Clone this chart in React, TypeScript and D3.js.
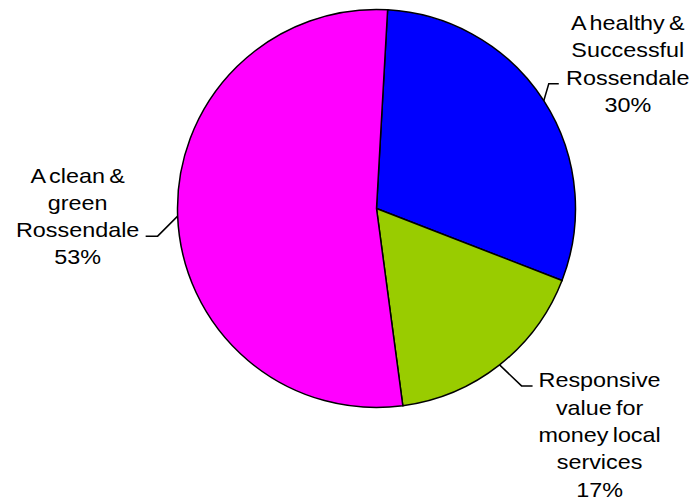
import React from "react";
import * as d3 from "d3";

const categories = [
  ["A healthy &", "Successful", "Rossendale"],
  ["Responsive", "value for", "money local", "services"],
  ["A clean &", "green", "Rossendale"],
];
const values = [30, 17, 53];
const percentLabels = ["30%", "17%", "53%"];
const colors = ["#0000FF", "#99CC00", "#FF00FF"];

const W = 697;
const H = 499;
const cx = 376.5;
const cy = 208.5;
const R = 199;
const startDeg = 3.2;

// leader elbow offsets and label placement (styling)
const leaders = [
  { ex: 5, ey: -17, hx: 10, tdx: 69, anchorLine: 2 },
  { ex: 22, ey: 21, hx: 11, tdx: 67, anchorLine: -0.02 },
  { ex: -20, ey: 20, hx: -12, tdx: -68, anchorLine: 2 },
];
const lineH = 27.3;
const fontSize = 20.5;

export default function App() {
  const s = (startDeg * Math.PI) / 180;
  const pie = d3
    .pie<number>()
    .sort(null)
    .value((d) => d)
    .startAngle(s)
    .endAngle(s + 2 * Math.PI);
  const arcs = pie(values);
  const arc = d3.arc<d3.PieArcDatum<number>>().innerRadius(0).outerRadius(R);

  return (
    <svg
      width={W}
      height={H}
      style={{ position: "absolute", left: 0, top: 0, background: "#fff" }}
      fontFamily="'Liberation Sans', Arial, sans-serif"
    >
      <g transform={`translate(${cx},${cy})`}>
        {arcs.map((a, i) => (
          <path key={i} d={arc(a) || ""} fill={colors[i]} stroke="#000" strokeWidth={1.5} />
        ))}
      </g>
      {arcs.map((a, i) => {
        const mid = (a.startAngle + a.endAngle) / 2;
        const px = cx + R * Math.sin(mid);
        const py = cy - R * Math.cos(mid);
        const L = leaders[i];
        const ex = px + L.ex;
        const ey = py + L.ey;
        const hx = ex + L.hx;
        const lines = [...categories[i], percentLabels[i]];
        const tx = hx + L.tdx;
        const baseY = ey + 1 - L.anchorLine * lineH;
        return (
          <g key={i}>
            <polyline
              points={`${px},${py} ${ex},${ey} ${hx},${ey}`}
              fill="none"
              stroke="#000"
              strokeWidth={1.5}
            />
            {lines.map((t, j) => (
              <text
                key={j}
                transform={`translate(${tx},${baseY + j * lineH}) scale(1.14,1)`}
                textAnchor="middle"
                fontSize={fontSize}
                wordSpacing={-2}
                fill="#000"
              >
                {t}
              </text>
            ))}
          </g>
        );
      })}
    </svg>
  );
}
